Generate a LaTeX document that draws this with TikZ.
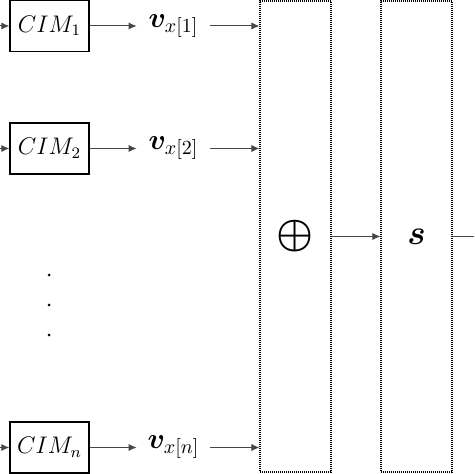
\documentclass[tikz,border=0pt]{standalone}
\usepackage{amsmath}
\usepackage{bm}
\usetikzlibrary{arrows.meta}
\definecolor{C0}{RGB}{70,70,70}

\tikzset{
  cimbox/.style={draw, line width=0.7pt, minimum width=39.5pt, minimum height=25.5pt, inner sep=0pt, font=\fontsize{11.5}{14}\selectfont},
  vlabel/.style={minimum width=36.5pt, inner sep=0pt, font=\fontsize{14}{17}\selectfont},
  bigbox/.style={draw, line width=0.6pt, dash pattern=on 0.5pt off 0.5pt, minimum width=35.5pt, minimum height=235.5pt, inner sep=0pt},
  link/.style={-{Latex[length=4pt,width=3.6pt]}, color=C0, line width=0.5pt},
}

\begin{document}
\begin{tikzpicture}[x=0.5pt,y=-0.5pt]
  \useasboundingbox (0,0) rectangle (474,474);

  % Summation and output blocks.
  \node[bigbox] (sum) at (295.5,236.5) {\fontsize{21}{24}\selectfont$\bm{\oplus}$};
  \node[bigbox] (sig) at (416.5,236.5) {\fontsize{18}{21}\selectfont$\bm{s}$};

  % One branch per CIM.
  \foreach \i/\y in {1/26,2/148.5,n/447.5} {
    \coordinate (in\i) at (0,\y);
    \node[cimbox] (cim\i) at (49.5,\y) {$CIM_{\i}$};
    \node[vlabel] (v\i) at (173.5,\y) {$\bm{v}_{x[\i]}$};
    \draw[link] (in\i) -- (cim\i);
    \draw[link] (cim\i) -- (v\i);
    \draw[link] (v\i) -- (v\i -| sum.west);
  }

  % Vertical dots.
  \foreach \y in {275,305,335} \fill (49,\y) circle (1.5);

  % Sum to output.
  \draw[link] (sum) -- (sig);
  \coordinate (out) at (474,236.5);
  \draw[color=C0, line width=0.5pt] (sig) -- (out);

\end{tikzpicture}
\end{document}
